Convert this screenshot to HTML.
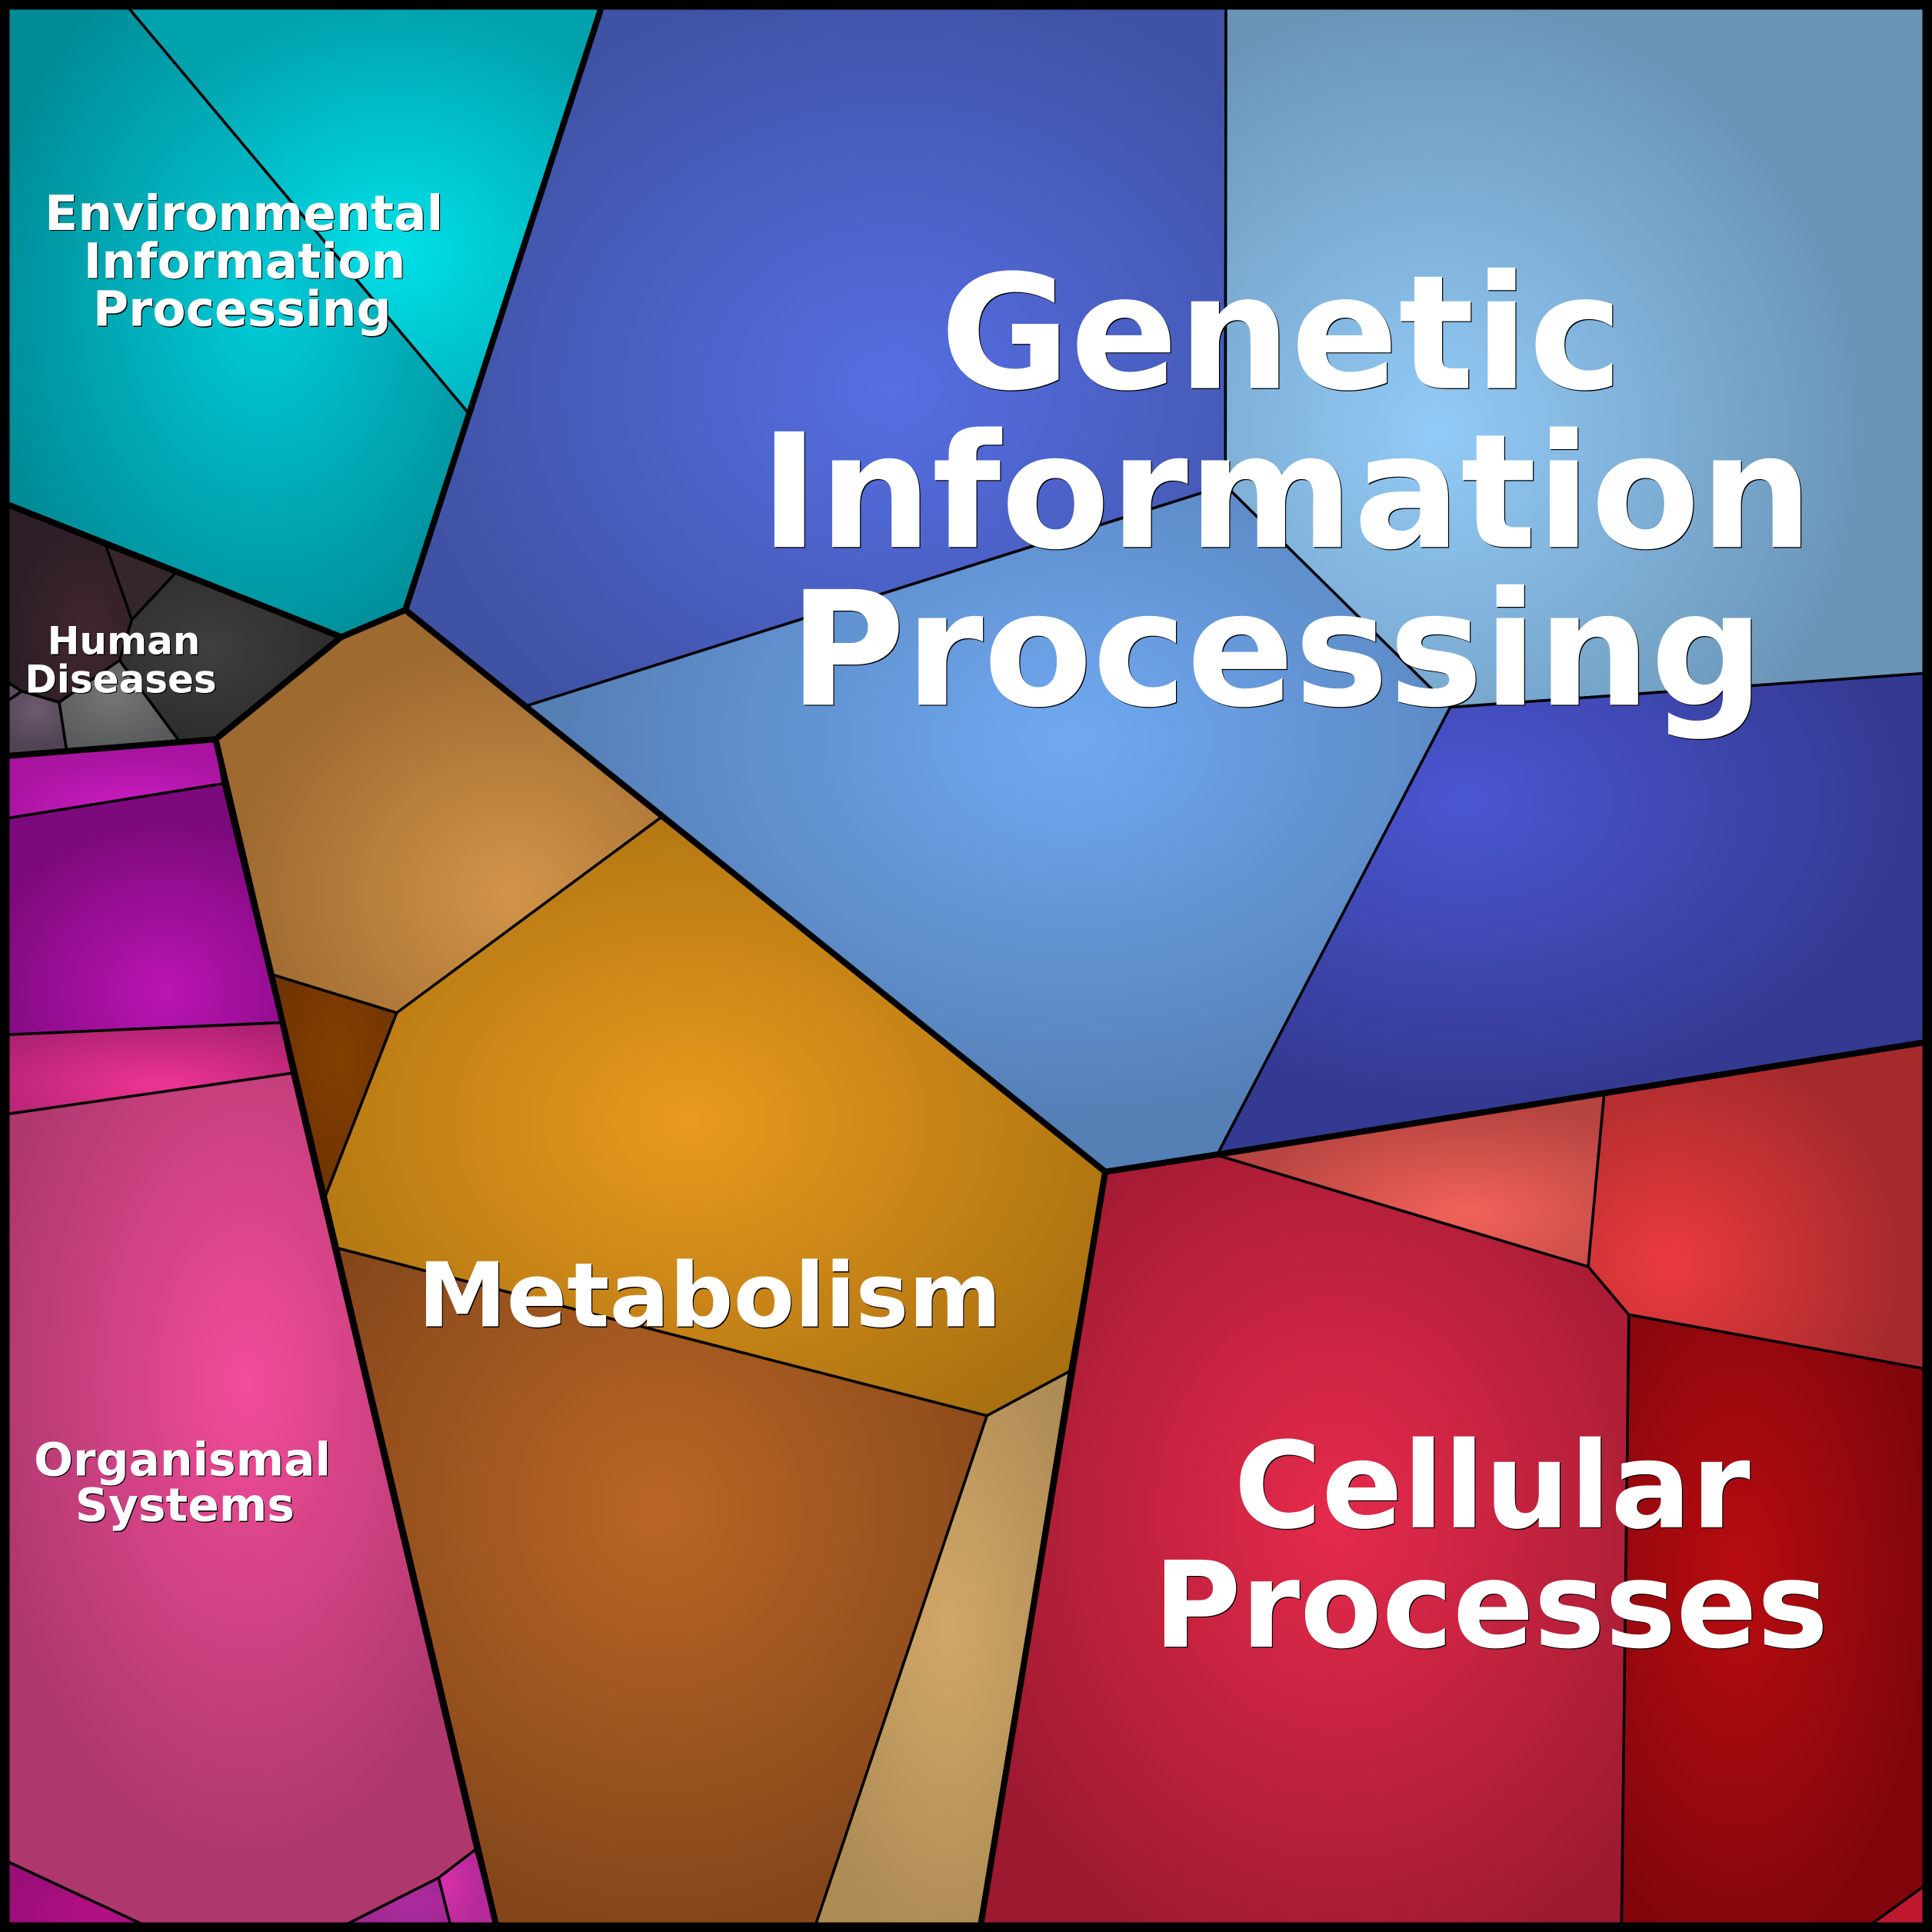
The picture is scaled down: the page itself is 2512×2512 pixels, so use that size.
<!DOCTYPE html>
<html><head><meta charset="utf-8"><style>
html,body{margin:0;padding:0;background:#fff}
svg{display:block}
text{font-family:"DejaVu Sans",sans-serif;font-weight:bold;text-anchor:middle}
.w text{fill:#fff}
.k text{fill:#000}
.c{stroke:#000;stroke-width:2.2;stroke-linejoin:round}
.g{fill:none;stroke:#000;stroke-width:5;stroke-linejoin:round}
</style></head><body>
<svg xmlns="http://www.w3.org/2000/svg" width="2512" height="2512" viewBox="0 0 1568 1568">
<defs>
<radialGradient id="a1" cx=".566" cy=".474" r=".6"><stop offset="0" stop-color="#00ccd8"/><stop offset="1" stop-color="#008b96"/></radialGradient>
<radialGradient id="a2" cx=".566" cy=".61" r=".6"><stop offset="0" stop-color="#00e0e8"/><stop offset="1" stop-color="#00a2ae"/></radialGradient>
<radialGradient id="b1" cx=".595" cy=".55" r=".6"><stop offset="0" stop-color="#566ee3"/><stop offset="1" stop-color="#3f52a4"/></radialGradient>
<radialGradient id="b2" cx=".297" cy=".61" r=".62"><stop offset="0" stop-color="#92cbf7"/><stop offset="1" stop-color="#6a94b6"/></radialGradient>
<radialGradient id="b3" cx=".59" cy=".37" r=".55"><stop offset="0" stop-color="#70a9f2"/><stop offset="1" stop-color="#5580b6"/></radialGradient>
<radialGradient id="b4" cx=".347" cy=".266" r=".62"><stop offset="0" stop-color="#4b56d2"/><stop offset="1" stop-color="#343a92"/></radialGradient>
<radialGradient id="m1" cx=".663" cy=".703" r=".62"><stop offset="0" stop-color="#d29449"/><stop offset="1" stop-color="#9e6a30"/></radialGradient>
<radialGradient id="m2" cx=".53" cy=".38" r=".6"><stop offset="0" stop-color="#843e00"/><stop offset="1" stop-color="#6e3400"/></radialGradient>
<radialGradient id="m3" cx=".468" cy=".508" r=".62"><stop offset="0" stop-color="#e99a1e"/><stop offset="1" stop-color="#a87010"/></radialGradient>
<radialGradient id="m4" cx=".495" cy=".382" r=".6"><stop offset="0" stop-color="#ba6625"/><stop offset="1" stop-color="#85471a"/></radialGradient>
<radialGradient id="m5" cx=".524" cy=".455" r=".58"><stop offset="0" stop-color="#d0a768"/><stop offset="1" stop-color="#ae8c55"/></radialGradient>
<radialGradient id="c1" cx=".55" cy=".464" r=".62"><stop offset="0" stop-color="#e62a4c"/><stop offset="1" stop-color="#9c1a30"/></radialGradient>
<radialGradient id="c2" cx=".644" cy=".695" r=".62"><stop offset="0" stop-color="#f2625a"/><stop offset="1" stop-color="#b64440"/></radialGradient>
<radialGradient id="c3" cx=".237" cy=".674" r=".68"><stop offset="0" stop-color="#ea3a3e"/><stop offset="1" stop-color="#a52a2c"/></radialGradient>
<radialGradient id="c4" cx=".373" cy=".425" r=".62"><stop offset="0" stop-color="#b80c10"/><stop offset="1" stop-color="#80060c"/></radialGradient>
<radialGradient id="o1" cx=".608" cy=".846" r=".62"><stop offset="0" stop-color="#cc1cc2"/><stop offset="1" stop-color="#a814a0"/></radialGradient>
<radialGradient id="o2" cx=".59" cy=".83" r=".68"><stop offset="0" stop-color="#ba14b2"/><stop offset="1" stop-color="#7c0a7c"/></radialGradient>
<radialGradient id="o3" cx=".55" cy=".667" r=".75"><stop offset="0" stop-color="#ee3594"/><stop offset="1" stop-color="#a8206e"/></radialGradient>
<radialGradient id="o4" cx=".518" cy=".36" r=".55"><stop offset="0" stop-color="#f24c99"/><stop offset="1" stop-color="#ae386e"/></radialGradient>
<radialGradient id="o5" cx=".64" cy=".7" r=".6"><stop offset="0" stop-color="#b41086"/><stop offset="1" stop-color="#9a0e78"/></radialGradient>
<radialGradient id="o6" cx=".67" cy=".47" r=".6"><stop offset="0" stop-color="#ae2c9e"/><stop offset="1" stop-color="#9c2690"/></radialGradient>
<radialGradient id="o7" cx=".13" cy=".43" r=".6"><stop offset="0" stop-color="#d630aa"/><stop offset="1" stop-color="#b52a98"/></radialGradient>
<radialGradient id="h1" cx=".65" cy=".66" r=".6"><stop offset="0" stop-color="#402630"/><stop offset="1" stop-color="#2c1e26"/></radialGradient>
<radialGradient id="h3" cx=".405" cy=".44" r=".6"><stop offset="0" stop-color="#403e3e"/><stop offset="1" stop-color="#2d2c2d"/></radialGradient>
<radialGradient id="h4" cx=".45" cy=".4" r=".6"><stop offset="0" stop-color="#757577"/><stop offset="1" stop-color="#585a5c"/></radialGradient>
<radialGradient id="h5" cx=".55" cy=".27" r=".6"><stop offset="0" stop-color="#6e5a70"/><stop offset="1" stop-color="#504454"/></radialGradient>
</defs>
<rect width="1568" height="1568" fill="#000"/>
<!-- Environmental -->
<polygon class="c" fill="url(#a1)" points="0,0 99,0 380,335 329,495 277,517 0,407"/>
<polygon class="c" fill="url(#a2)" points="99,0 490,0 380,335"/>
<!-- Genetic -->
<polygon class="c" fill="url(#b1)" points="490,0 995,0 994.5,394 427,573 329,495"/>
<polygon class="c" fill="url(#b2)" points="995,0 1568,0 1568,546 1177,574 994.5,394"/>
<polygon class="c" fill="url(#b3)" points="427,573 994.5,394 1177,574 988,937 897,951"/>
<polygon class="c" fill="url(#b4)" points="1177,574 1568,546 1568,845 988,937"/>
<!-- Metabolism -->
<polygon class="c" fill="url(#m1)" points="329,495 537,663 322,822 221,791 175,600 277,517"/>
<polygon class="c" fill="url(#m2)" points="221,791 322,822 264,971"/>
<polygon class="c" fill="url(#m3)" points="537,663 897,951 868,1113 801,1149 274,1013 264,971 322,822"/>
<polygon class="c" fill="url(#m4)" points="274,1013 801,1149 660,1568 404,1568"/>
<polygon class="c" fill="url(#m5)" points="801,1149 868,1113 795,1568 660,1568"/>
<!-- Cellular -->
<polygon class="c" fill="url(#c1)" points="897,951 986,937 1289,1028 1322,1067 1316,1568 795,1568"/>
<polygon class="c" fill="url(#c2)" points="986,937 1302,887 1289,1028"/>
<polygon class="c" fill="url(#c3)" points="1302,887 1568,845 1568,1112 1322,1067 1289,1028"/>
<polygon class="c" fill="url(#c4)" points="1322,1067 1568,1112 1568,1526 1510,1568 1316,1568"/>
<polygon class="c" fill="#bf182e" points="1568,1526 1568,1568 1510,1568"/>
<!-- Organismal -->
<polygon class="c" fill="url(#o1)" points="0,615 175,600 181,636 0,665"/>
<polygon class="c" fill="url(#o2)" points="0,665 181,636 228,830 0,840"/>
<polygon class="c" fill="url(#o3)" points="0,840 228,830 237,871 0,905"/>
<polygon class="c" fill="url(#o4)" points="0,905 237,871 386,1501 356,1524 269,1568 129,1568 0,1508"/>
<polygon class="c" fill="url(#o5)" points="0,1508 129,1568 0,1568"/>
<polygon class="c" fill="url(#o6)" points="269,1568 356,1524 367,1568"/>
<polygon class="c" fill="url(#o7)" points="356,1524 386,1501 404,1568 367,1568"/>
<!-- Human diseases -->
<polygon class="c" fill="url(#h1)" points="0,407 86,443 107,503 97,536 48,570 17.7,561 0,550"/>
<polygon class="c" fill="#352629" points="86,443 142.5,465 107,503"/>
<polygon class="c" fill="url(#h3)" points="142.5,465 277,517 175,600 145,601 97,536 107,503"/>
<polygon class="c" fill="url(#h4)" points="97,536 145,601 54,608.6 48,570"/>
<polygon class="c" fill="url(#h5)" points="17.7,561 48,570 54,608.6 0,613 0,573"/>
<polygon class="c" fill="#5a4a60" points="0,550 17.7,561 0,573"/>
<!-- Group boundaries -->
<polyline class="g" points="490,0 329,495 277,517 0,407"/>
<polyline class="g" points="329,495 897,951 795,1568"/>
<polyline class="g" points="897,951 988,937 1568,845"/>
<polyline class="g" points="0,614 175,600 277,517"/>
<polyline class="g" points="175,600 404,1568"/>
<rect x="3.9" y="3.9" width="1560.2" height="1560.2" fill="none" stroke="#000" stroke-width="7.8"/>
<!-- Labels: black shadow copy, then white -->
<g class="k" transform="translate(.75 .75)">
<text font-size="128.8" x="1040" y="315">Genetic</text>
<text font-size="128.8" x="1044" y="444">Information</text>
<text font-size="128.8" x="1036" y="572">Processing</text>
<text font-size="72.3" x="576" y="1076.5">Metabolism</text>
<text font-size="97" x="1211" y="1239.5">Cellular</text>
<text font-size="97" x="1210" y="1336.5">Processes</text>
<text font-size="39.4" x="198" y="186.5">Environmental</text>
<text font-size="39.4" x="198.5" y="225.5">Information</text>
<text font-size="39.4" x="196.5" y="264.5">Processing</text>
<text font-size="31.2" x="100.5" y="531">Human</text>
<text font-size="31.2" x="98" y="562">Diseases</text>
<text font-size="37.4" x="148" y="1197.5">Organismal</text>
<text font-size="37.4" x="150" y="1234.5">Systems</text>
</g>
<g class="w">
<text font-size="128.8" x="1040" y="315">Genetic</text>
<text font-size="128.8" x="1044" y="444">Information</text>
<text font-size="128.8" x="1036" y="572">Processing</text>
<text font-size="72.3" x="576" y="1076.5">Metabolism</text>
<text font-size="97" x="1211" y="1239.5">Cellular</text>
<text font-size="97" x="1210" y="1336.5">Processes</text>
<text font-size="39.4" x="198" y="186.5">Environmental</text>
<text font-size="39.4" x="198.5" y="225.5">Information</text>
<text font-size="39.4" x="196.5" y="264.5">Processing</text>
<text font-size="31.2" x="100.5" y="531">Human</text>
<text font-size="31.2" x="98" y="562">Diseases</text>
<text font-size="37.4" x="148" y="1197.5">Organismal</text>
<text font-size="37.4" x="150" y="1234.5">Systems</text>
</g>
</svg>
</body></html>
